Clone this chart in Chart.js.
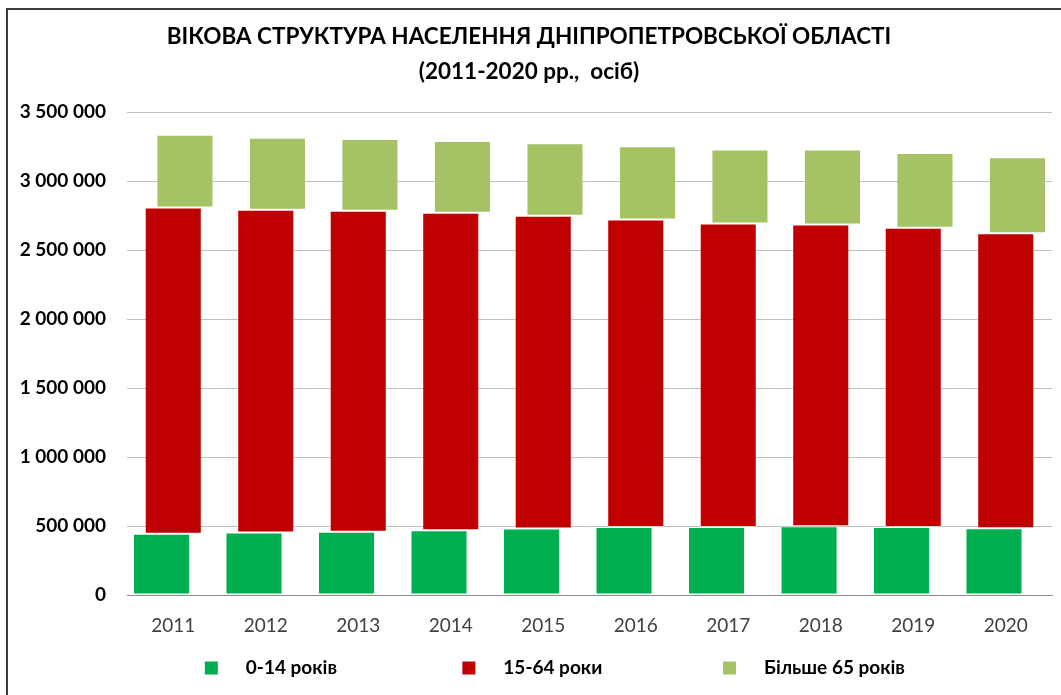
<!DOCTYPE html>
<html lang="uk">
<head>
<meta charset="utf-8">
<title>Вікова структура населення Дніпропетровської області</title>
<script src="https://cdn.jsdelivr.net/npm/chart.js@4.4.1/dist/chart.umd.min.js"></script>
<style>
    html, body { margin: 0; padding: 0; background: #fff; overflow: hidden; }
    #contenedor { position: relative; width: 1061px; height: 695px; }
    /* marco del gráfico (cortado a la derecha y abajo, como en el original) */
    #marco { position: absolute; left: 6px; top: 8px; width: 1100px; height: 740px;
             border: 2px solid #3c3c3c; box-sizing: border-box; }
    #grafico { position: absolute; left: 0; top: 0; }
</style>
</head>
<body>
<div id="contenedor">
    <div id="marco"></div>
    <canvas id="grafico" width="1061" height="695"></canvas>
</div>
<script>
// Datos (personas)
const anios = ['2011', '2012', '2013', '2014', '2015', '2016', '2017', '2018', '2019', '2020'];
const grupo0a14 = [443000, 452000, 459000, 469000, 481000, 493000, 493000, 498000, 493000, 484000];
const grupo15a64 = [2365000, 2340000, 2325000, 2301000, 2267000, 2228000, 2199000, 2187000, 2168000, 2138000];
const grupo65mas = [528000, 522000, 520000, 520000, 525000, 530000, 537000, 544000, 542000, 551000];
const ticksY = [0, 500000, 1000000, 1500000, 2000000, 2500000, 3000000, 3500000];
const nombresSeries = ['0-14 років', '15-64 роки', 'Більше 65 років'];
const coloresSeries = ['#00B050', '#C00000', '#A5C264'];
const titulo = ['ВІКОВА СТРУКТУРА НАСЕЛЕННЯ ДНІПРОПЕТРОВСЬКОЇ ОБЛАСТІ', '(2011-2020 рр.,  осіб)'];

// Barras flotantes: cada grupo empieza donde termina el anterior
const tramos0a14 = grupo0a14.map(v => [0, v]);
const tramos15a64 = grupo15a64.map((v, i) => [grupo0a14[i], grupo0a14[i] + v]);
const tramos65mas = grupo65mas.map((v, i) => {
    const base = grupo0a14[i] + grupo15a64[i];
    return [base, base + v];
});

// "3 500 000"
function formatoMiles(valor) {
    return String(valor).replace(/\B(?=(\d{3})+(?!\d))/g, ' ');
}

// Leyenda: se rellenan los textos con espacios para separar los elementos como en Excel
function etiquetasLeyenda(chart) {
    const items = Chart.defaults.plugins.legend.labels.generateLabels(chart);
    const ctx = chart.ctx;
    ctx.save();
    ctx.font = 'bold 19px Lato';
    const esp = ctx.measureText(' ').width;
    const anchos = [223.5, 229.5, 226.5];
    items.forEach((it, i) => {
        const izq = ' '.repeat(Math.round(16.5 / esp));
        const medida = ctx.measureText(izq + it.text).width;
        const der = ' '.repeat(Math.max(0, Math.round((anchos[i] - medida) / esp)));
        it.text = izq + it.text + der;
        it.lineWidth = 0;
    });
    ctx.restore();
    return items;
}

const fuenteNegrita = { family: 'Lato', size: 19, weight: 'bold' };

const ctx = document.getElementById('grafico').getContext('2d');
const grafico = new Chart(ctx, {
    type: 'bar',
    data: {
        labels: anios,
        datasets: [
            { label: nombresSeries[0], data: tramos0a14, backgroundColor: coloresSeries[0] },
            { label: nombresSeries[1], data: tramos15a64, backgroundColor: coloresSeries[1] },
            { label: nombresSeries[2], data: tramos65mas, backgroundColor: coloresSeries[2] }
        ]
    },
    options: {
        responsive: false,
        animation: false,
        layout: { padding: { top: 8, left: 6, right: 9, bottom: 7.5 } },
        datasets: {
            bar: {
                categoryPercentage: 0.38,
                barPercentage: 4.87,
                borderWidth: 1,
                borderColor: 'rgba(255, 255, 255, 0.3)',
                borderSkipped: false
            }
        },
        plugins: {
            title: {
                display: true,
                text: titulo,
                color: '#000',
                font: { family: 'Lato', size: 22.5, weight: 'bold', lineHeight: 35 / 22.5 },
                padding: { top: 11.5, bottom: 22.5 }
            },
            legend: {
                position: 'bottom',
                fullSize: false,
                labels: {
                    boxWidth: 13,
                    boxHeight: 13,
                    padding: 10,
                    color: '#000',
                    font: fuenteNegrita,
                    generateLabels: etiquetasLeyenda
                }
            },
            tooltip: { enabled: false }
        },
        scales: {
            x: {
                grid: { display: false },
                border: { display: true, color: '#8c8c8c', width: 1 },
                ticks: { color: '#404040', font: { family: 'Lato', size: 19 }, padding: 11 },
                afterFit: scale => { scale.height = 53.5; }
            },
            y: {
                min: 0,
                max: 3500000,
                grid: { color: '#c0c0c0', drawTicks: false },
                border: { display: false },
                ticks: {
                    padding: 21,
                    color: '#000',
                    font: fuenteNegrita,
                    callback: valor => formatoMiles(valor)
                },
                afterBuildTicks: scale => { scale.ticks = ticksY.map(v => ({ value: v })); },
                afterFit: scale => { scale.width = 121; }
            }
        }
    }
});
</script>
</body>
</html>
